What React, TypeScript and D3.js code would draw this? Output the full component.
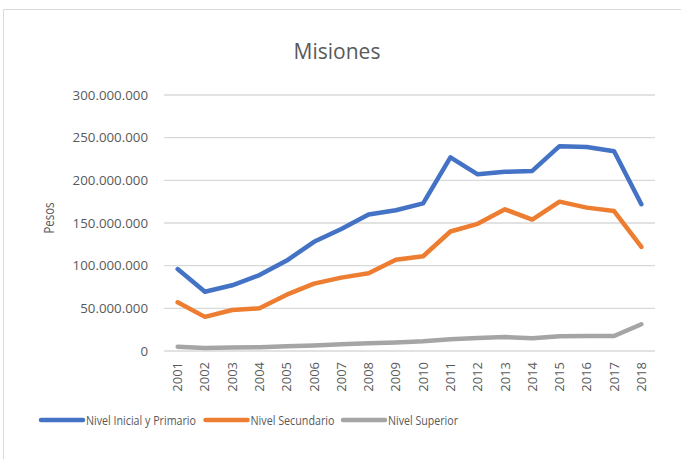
import React from "react";
import * as d3 from "d3";

const years = ["2001","2002","2003","2004","2005","2006","2007","2008","2009","2010","2011","2012","2013","2014","2015","2016","2017","2018"];
const inicialPrimario = [96, 69.5, 77, 89, 106, 128, 143, 160, 165, 173, 227, 207, 210, 211, 240, 239, 234, 172];
const secundario = [57, 40, 48, 50, 66, 79, 86, 91, 107, 111, 140, 149, 166, 154, 175, 168, 164, 122];
const superior = [5, 3.5, 4, 4.5, 5.5, 6.5, 7.8, 9.2, 10, 11.3, 13.7, 15.2, 16.4, 15, 17.3, 17.6, 17.6, 31.3];
const yTicks = [0, 50, 100, 150, 200, 250, 300];
const seriesNames = ["Nivel Inicial y Primario", "Nivel Secundario", "Nivel Superior"];
const seriesColors = ["#4472C4", "#ED7D31", "#A5A5A5"];

const W = 681, H = 459;
const left = 164, right = 655, top = 95, bottom = 351;
const FONT = "'Open Sans', 'Noto Sans', sans-serif";

function fmt(v: number) {
  if (v === 0) return "0";
  return (v * 1e6).toString().replace(/\B(?=(\d{3})+(?!\d))/g, ".");
}

export default function App() {
  const x = d3.scaleBand<string>().domain(years).range([left, right]);
  const y = d3.scaleLinear().domain([0, 300]).range([bottom, top]);
  const cx = (yr: string) => (x(yr) as number) + x.bandwidth() / 2;
  const line = d3.line<number>().x((_, i) => cx(years[i])).y((v) => y(v));
  const data = [inicialPrimario, secundario, superior];
  const legendX = [41, 205.5, 343];
  const legendW = [110, 84, 70];
  return (
    <svg width={W} height={H} style={{ position: "absolute", left: 0, top: 0, background: "#fff" }}>
      <rect x={0} y={0} width={W} height={H} fill="#fff" />
      <line x1={3.5} x2={W} y1={9.5} y2={9.5} stroke="#d9d9d9" strokeWidth={1} />
      <line x1={3.5} x2={3.5} y1={9.5} y2={H} stroke="#d9d9d9" strokeWidth={1} />
      <text x={337} y={59} textAnchor="middle" fontFamily={FONT} fontSize={21} fill="#595959">Misiones</text>
      {yTicks.map((t) => (
        <g key={t}>
          <line x1={left} x2={right} y1={y(t)} y2={y(t)} stroke="#d9d9d9" strokeWidth={1.3} />
          <text x={148} y={y(t)} dy="0.35em" textAnchor="end" fontFamily={FONT} fontSize={13.3} fill="#595959">{fmt(t)}</text>
        </g>
      ))}
      <text transform={`translate(54,218) rotate(-90)`} textAnchor="middle" fontFamily={FONT} fontSize={14} textLength={31} lengthAdjust="spacingAndGlyphs" fill="#595959">Pesos</text>
      {years.map((yr) => (
        <text key={yr} transform={`translate(${cx(yr)},362) rotate(-90)`} dy="0.35em" textAnchor="end" fontFamily={FONT} fontSize={13} fill="#595959">{yr}</text>
      ))}
      {data.map((d, i) => (
        <path key={i} d={line(d) as string} fill="none" stroke={seriesColors[i]} strokeWidth={4.5} strokeLinejoin="round" strokeLinecap="round" />
      ))}
      {seriesNames.map((n, i) => (
        <g key={n}>
          <line x1={legendX[i]} x2={legendX[i] + 42} y1={420} y2={420} stroke={seriesColors[i]} strokeWidth={4.5} strokeLinecap="round" />
          <text x={legendX[i] + 45} y={420} dy="0.35em" fontFamily={FONT} fontSize={13.3} textLength={legendW[i]} lengthAdjust="spacingAndGlyphs" fill="#595959">{n}</text>
        </g>
      ))}
    </svg>
  );
}
